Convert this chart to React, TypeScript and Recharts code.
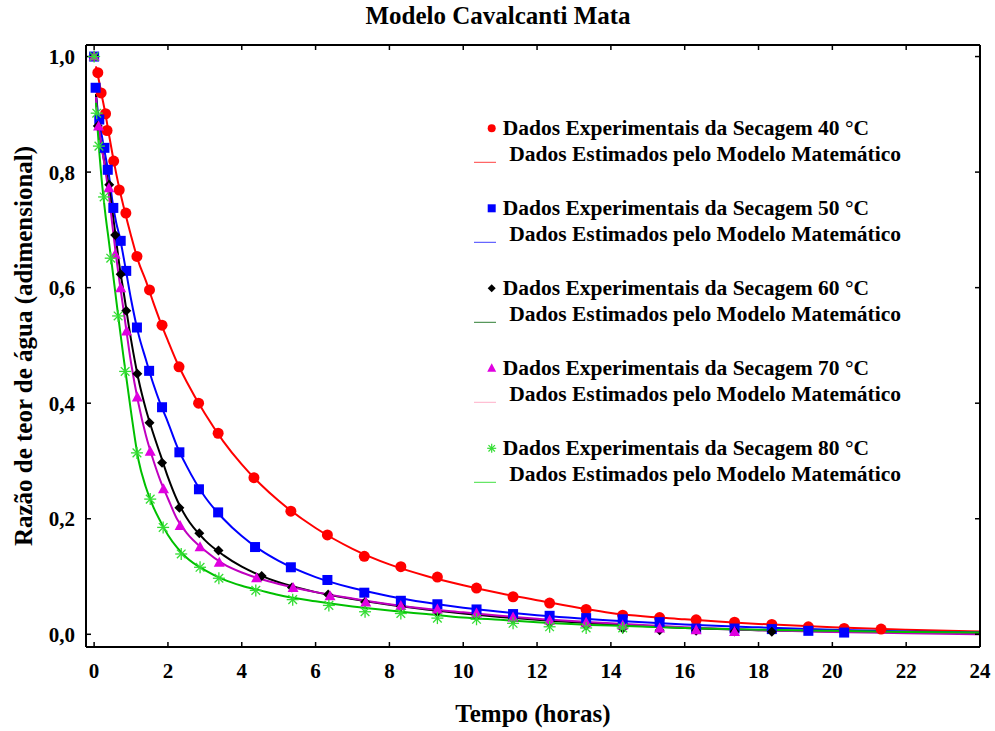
import React from 'react';
import { ComposedChart, Line, Scatter, XAxis, YAxis, Legend } from 'recharts';

const FONT = '"Liberation Serif", "Times New Roman", serif';

const chartTitle = 'Modelo Cavalcanti Mata';
const xAxisTitle = 'Tempo (horas)';
const yAxisTitle = 'Razão de teor de água (adimensional)';
const xTicks = [0, 2, 4, 6, 8, 10, 12, 14, 16, 18, 20, 22, 24];
const yTicks = [0, 0.2, 0.4, 0.6, 0.8, 1.0];
const temperatures = ['40', '50', '60', '70', '80'];

// Experimental data (time in hours, moisture ratio)
const exp40Times = [0.1, 0.19, 0.31, 0.35, 0.53, 0.68, 0.86, 1.16, 1.5, 1.84, 2.3, 2.83, 3.36, 4.33, 5.33, 6.32, 7.32, 8.31, 9.3, 10.36, 11.35, 12.34, 13.33, 14.32, 15.32, 16.31, 17.35, 18.36, 19.35, 20.32, 21.32];
const exp40Values = [0.972, 0.937, 0.901, 0.872, 0.819, 0.769, 0.729, 0.654, 0.596, 0.535, 0.463, 0.4, 0.348, 0.271, 0.213, 0.172, 0.135, 0.117, 0.099, 0.08, 0.065, 0.054, 0.043, 0.033, 0.029, 0.025, 0.021, 0.017, 0.013, 0.01, 0.009];

const exp50Times = [0, 0.04, 0.14, 0.28, 0.37, 0.52, 0.72, 0.87, 1.16, 1.49, 1.84, 2.31, 2.84, 3.36, 4.36, 5.33, 6.32, 7.32, 8.31, 9.3, 10.36, 11.35, 12.34, 13.33, 14.32, 15.32, 16.31, 17.35, 18.36, 19.35, 20.32];
const exp50Values = [1.0, 0.946, 0.891, 0.842, 0.804, 0.738, 0.681, 0.629, 0.531, 0.456, 0.393, 0.315, 0.251, 0.211, 0.151, 0.116, 0.094, 0.072, 0.058, 0.052, 0.043, 0.035, 0.032, 0.028, 0.026, 0.021, 0.01, 0.01, 0.009, 0.006, 0.003];

const exp60Times = [0, 0.1, 0.41, 0.57, 0.72, 0.87, 1.17, 1.5, 1.84, 2.31, 2.85, 3.37, 4.54, 5.36, 6.34, 7.34, 8.31, 9.3, 10.36, 11.35, 12.34, 13.33, 14.32, 15.32, 16.31, 17.35, 18.36];
const exp60Values = [1.0, 0.88, 0.778, 0.691, 0.623, 0.56, 0.451, 0.366, 0.297, 0.219, 0.175, 0.145, 0.101, 0.081, 0.069, 0.056, 0.048, 0.039, 0.032, 0.026, 0.019, 0.015, 0.01, 0.007, 0.006, 0.005, 0.0045];

const exp70Times = [0, 0.12, 0.4, 0.57, 0.72, 0.88, 1.17, 1.52, 1.88, 2.33, 2.87, 3.39, 4.4, 5.39, 6.39, 7.36, 8.31, 9.3, 10.36, 11.35, 12.34, 13.33, 14.32, 15.32, 16.31, 17.35];
const exp70Values = [1.0, 0.879, 0.772, 0.657, 0.599, 0.524, 0.41, 0.316, 0.251, 0.1875, 0.1505, 0.124, 0.097, 0.08, 0.066, 0.055, 0.049, 0.043, 0.036, 0.029, 0.024, 0.02, 0.015, 0.01, 0.007, 0.004];

const exp80Times = [0, 0.07, 0.13, 0.27, 0.45, 0.65, 0.84, 1.16, 1.52, 1.87, 2.36, 2.87, 3.38, 4.38, 5.38, 6.36, 7.34, 8.31, 9.3, 10.36, 11.35, 12.34, 13.33, 14.32];
const exp80Values = [1.0, 0.902, 0.845, 0.757, 0.651, 0.551, 0.455, 0.314, 0.234, 0.185, 0.139, 0.116, 0.097, 0.076, 0.06, 0.05, 0.039, 0.036, 0.028, 0.026, 0.019, 0.013, 0.011, 0.011];

// Model curves
const modelTimes = [0.05, 0.1, 0.2, 0.3, 0.4, 0.5, 0.6, 0.7, 0.8, 1.0, 1.2, 1.4, 1.6, 1.8, 2.0, 2.25, 2.5, 3.0, 3.5, 4, 4.5, 5, 6, 7, 8, 9, 10, 11, 12, 14, 16, 18, 20, 22, 24];
const model40 = [0.983, 0.968, 0.935, 0.903, 0.866, 0.83, 0.797, 0.767, 0.74, 0.69, 0.645, 0.612, 0.575, 0.54, 0.508, 0.47, 0.438, 0.382, 0.334, 0.294, 0.26, 0.231, 0.184, 0.148, 0.121, 0.101, 0.085, 0.071, 0.059, 0.037, 0.026, 0.018, 0.012, 0.008, 0.005];
const model50 = [0.935, 0.905, 0.866, 0.83, 0.795, 0.748, 0.712, 0.686, 0.652, 0.58, 0.52, 0.476, 0.434, 0.398, 0.367, 0.325, 0.292, 0.238, 0.2, 0.17, 0.146, 0.127, 0.099, 0.08, 0.066, 0.055, 0.046, 0.039, 0.033, 0.024, 0.017, 0.012, 0.008, 0.005, 0.003];
const model60 = [0.935, 0.89, 0.845, 0.81, 0.775, 0.73, 0.68, 0.632, 0.592, 0.51, 0.442, 0.39, 0.348, 0.31, 0.272, 0.232, 0.202, 0.163, 0.137, 0.117, 0.102, 0.09, 0.073, 0.061, 0.051, 0.043, 0.036, 0.03, 0.025, 0.017, 0.011, 0.007, 0.005, 0.003, 0.002];
const model70 = [0.93, 0.89, 0.845, 0.805, 0.76, 0.705, 0.652, 0.605, 0.56, 0.47, 0.4, 0.345, 0.302, 0.265, 0.235, 0.199, 0.176, 0.145, 0.122, 0.107, 0.096, 0.087, 0.073, 0.062, 0.052, 0.044, 0.038, 0.032, 0.027, 0.019, 0.012, 0.007, 0.004, 0.002, 0.0];
const model80 = [0.92, 0.87, 0.79, 0.73, 0.68, 0.63, 0.578, 0.527, 0.478, 0.385, 0.302, 0.255, 0.221, 0.195, 0.172, 0.15, 0.133, 0.111, 0.095, 0.084, 0.076, 0.068, 0.057, 0.048, 0.041, 0.035, 0.029, 0.025, 0.021, 0.015, 0.011, 0.008, 0.006, 0.004, 0.003];

const pts = (ts: number[], ys: number[]) => ts.map((x, i) => ({ x, y: ys[i] }));

const RED = '#ff0000';
const BLUE = '#0000ff';
const BLACK = '#000000';
const MAG_LINE = '#c000c0';
const MAG = '#e000e0';
const GREEN_LINE = '#00c000';
const GREEN = '#33dd33';

const CircleShape = (p: any) => <circle cx={p.cx} cy={p.cy} r={5.5} fill={RED} />;
const SquareShape = (p: any) => <rect x={p.cx - 5} y={p.cy - 5} width={10} height={10} fill={BLUE} />;
const DiamondShape = (p: any) => (
  <polygon points={`${p.cx},${p.cy - 5} ${p.cx + 5},${p.cy} ${p.cx},${p.cy + 5} ${p.cx - 5},${p.cy}`} fill={BLACK} />
);
const TriangleShape = (p: any) => (
  <polygon points={`${p.cx},${p.cy - 6} ${p.cx + 5.5},${p.cy + 4} ${p.cx - 5.5},${p.cy + 4}`} fill={MAG} />
);
const StarShape = (p: any) => {
  const r = 6;
  const d = r * 0.72;
  return (
    <g stroke={GREEN} strokeWidth={1.3}>
      <line x1={p.cx - r} y1={p.cy} x2={p.cx + r} y2={p.cy} />
      <line x1={p.cx} y1={p.cy - r} x2={p.cx} y2={p.cy + r} />
      <line x1={p.cx - d} y1={p.cy - d} x2={p.cx + d} y2={p.cy + d} />
      <line x1={p.cx - d} y1={p.cy + d} x2={p.cx + d} y2={p.cy - d} />
    </g>
  );
};

const legendLineColors = ['#ff4040', '#4040ff', '#2e7d32', '#ffb0c8', '#40e040'];

const LegendMarker = ({ i, cx, cy }: { i: number; cx: number; cy: number }) => {
  if (i === 0) return <circle cx={cx} cy={cy} r={4} fill={RED} />;
  if (i === 1) return <rect x={cx - 4} y={cy - 4} width={8} height={8} fill={BLUE} />;
  if (i === 2) return <polygon points={`${cx},${cy - 4} ${cx + 4},${cy} ${cx},${cy + 4} ${cx - 4},${cy}`} fill={BLACK} />;
  if (i === 3) return <polygon points={`${cx},${cy - 5} ${cx + 4.5},${cy + 3.5} ${cx - 4.5},${cy + 3.5}`} fill={MAG} />;
  const r = 4.5;
  const d = r * 0.72;
  return (
    <g stroke={GREEN} strokeWidth={1.2}>
      <line x1={cx - r} y1={cy} x2={cx + r} y2={cy} />
      <line x1={cx} y1={cy - r} x2={cx} y2={cy + r} />
      <line x1={cx - d} y1={cy - d} x2={cx + d} y2={cy + d} />
      <line x1={cx - d} y1={cy + d} x2={cx + d} y2={cy - d} />
    </g>
  );
};

const LegendOverlay = () => (
  <svg width={995} height={731} style={{ position: 'absolute', left: 0, top: 0 }}>
    <text x={498} y={24} textAnchor="middle" fontFamily={FONT} fontWeight="bold" fontSize={25} fill="#000">
      {chartTitle}
    </text>
    {temperatures.map((t, i) => {
      const base = 135 + 80 * i;
      return (
        <g key={t}>
          <LegendMarker i={i} cx={491.7} cy={base - 6.7} />
          <text x={502.7} y={base} fontFamily={FONT} fontWeight="bold" fontSize={21.5} fill="#000">
            {`Dados Experimentais da Secagem ${t} °C`}
          </text>
          <line x1={474} x2={496} y1={base + 27.3} y2={base + 27.3} stroke={legendLineColors[i]} strokeWidth={1} />
          <text x={509.3} y={base + 25.7} fontFamily={FONT} fontWeight="bold" fontSize={21.5} fill="#000">
            Dados Estimados pelo Modelo Matemático
          </text>
        </g>
      );
    })}
  </svg>
);

const tickStyle = { fill: '#000', fontSize: 21, fontWeight: 'bold', fontFamily: FONT };
const axisLineStyle = { stroke: '#000', strokeWidth: 2 };
const tickLineStyle = { stroke: '#000', strokeWidth: 1.5 };

export default function App() {
  return (
    <div style={{ position: 'absolute', left: 0, top: 0, width: 995, height: 731, background: '#fff' }}>
      <ComposedChart width={995} height={731} margin={{ top: 15, right: 0, bottom: 0, left: 20 }}>
        <XAxis
          type="number"
          dataKey="x"
          domain={[-0.22, 24]}
          ticks={xTicks}
          interval={0}
          allowDataOverflow
          height={84}
          tickSize={-5}
          tickMargin={21}
          axisLine={axisLineStyle}
          tickLine={tickLineStyle}
          tick={tickStyle}
          label={() => (
            <text x={533} y={722} textAnchor="middle" fontFamily={FONT} fontWeight="bold" fontSize={25} fill="#000">
              {xAxisTitle}
            </text>
          )}
        />
        <XAxis
          xAxisId="top"
          orientation="top"
          type="number"
          dataKey="x"
          domain={[-0.22, 24]}
          ticks={xTicks}
          interval={0}
          allowDataOverflow
          height={30}
          tickSize={-5}
          tickFormatter={() => ''}
          axisLine={axisLineStyle}
          tickLine={tickLineStyle}
        />
        <YAxis
          type="number"
          domain={[-0.022, 1.02]}
          ticks={yTicks}
          interval={0}
          allowDataOverflow
          width={66}
          tickSize={-5}
          tickMargin={16}
          tickFormatter={(v: number) => v.toFixed(1).replace('.', ',')}
          axisLine={axisLineStyle}
          tickLine={tickLineStyle}
          tick={tickStyle}
          label={() => (
            <text
              x={32}
              y={346}
              transform="rotate(-90, 32, 346)"
              textAnchor="middle"
              fontFamily={FONT}
              fontWeight="bold"
              fontSize={25}
              fill="#000"
            >
              {yAxisTitle}
            </text>
          )}
        />
        <YAxis
          yAxisId="right"
          orientation="right"
          type="number"
          domain={[-0.022, 1.02]}
          ticks={yTicks}
          interval={0}
          allowDataOverflow
          width={15}
          tickSize={-5}
          tickFormatter={() => ''}
          axisLine={axisLineStyle}
          tickLine={tickLineStyle}
        />
        <Legend
          verticalAlign="middle"
          align="center"
          layout="horizontal"
          wrapperStyle={{ position: 'absolute', left: 0, top: 0, width: 995, height: 731, pointerEvents: 'none' }}
          content={() => <LegendOverlay />}
        />
        <Line data={pts(modelTimes, model40)} dataKey="y" type="monotone" stroke={RED} strokeWidth={2} dot={false} isAnimationActive={false} legendType="none" />
        <Line data={pts(modelTimes, model50)} dataKey="y" type="monotone" stroke={BLUE} strokeWidth={2} dot={false} isAnimationActive={false} legendType="none" />
        <Line data={pts(modelTimes, model60)} dataKey="y" type="monotone" stroke={BLACK} strokeWidth={2} dot={false} isAnimationActive={false} legendType="none" />
        <Line data={pts(modelTimes, model70)} dataKey="y" type="monotone" stroke={MAG_LINE} strokeWidth={2} dot={false} isAnimationActive={false} legendType="none" />
        <Line data={pts(modelTimes, model80)} dataKey="y" type="monotone" stroke={GREEN_LINE} strokeWidth={2} dot={false} isAnimationActive={false} legendType="none" />
        <Scatter data={pts(exp40Times, exp40Values)} dataKey="y" shape={CircleShape} isAnimationActive={false} legendType="none" />
        <Scatter data={pts(exp50Times, exp50Values)} dataKey="y" shape={SquareShape} isAnimationActive={false} legendType="none" />
        <Scatter data={pts(exp60Times, exp60Values)} dataKey="y" shape={DiamondShape} isAnimationActive={false} legendType="none" />
        <Scatter data={pts(exp70Times, exp70Values)} dataKey="y" shape={TriangleShape} isAnimationActive={false} legendType="none" />
        <Scatter data={pts(exp80Times, exp80Values)} dataKey="y" shape={StarShape} isAnimationActive={false} legendType="none" />
      </ComposedChart>
    </div>
  );
}
